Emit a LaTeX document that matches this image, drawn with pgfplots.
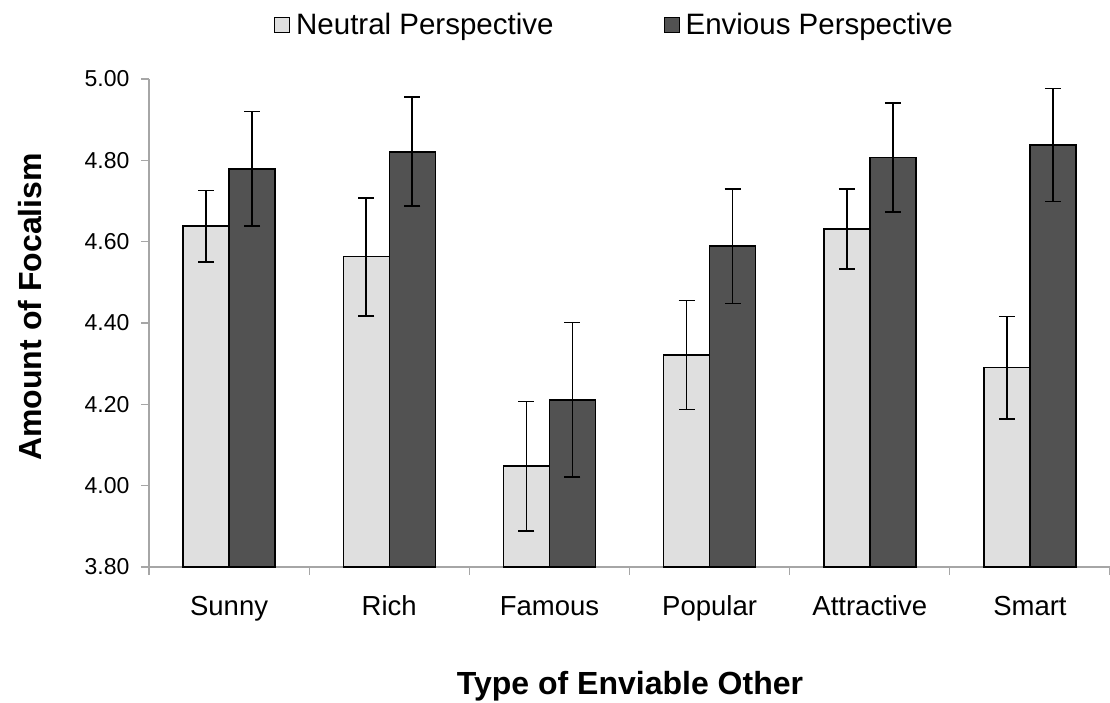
\documentclass[border=0pt]{standalone}
\usepackage{fontspec}
\setmainfont{Liberation Sans}
\usepackage{pgfplots}
\pgfplotsset{compat=1.18}
\definecolor{neutralc}{HTML}{DFDFDF}
\definecolor{enviousc}{HTML}{525252}
\definecolor{axisgray}{HTML}{A6A6A6}
\begin{document}
\begin{tikzpicture}
\useasboundingbox (0,0) rectangle (1110pt,702pt);
\begin{axis}[
  at={(149pt,135pt)}, anchor=south west,
  scale only axis, width=961pt, height=488pt,
  ybar=0pt, bar width=46pt,
  xmin=-0.5, xmax=5.5, ymin=3.8, ymax=5.0,
  axis lines*=left, axis line style={draw=axisgray, line width=1.3pt, -},
  tick align=outside,
  xtick={0,1,2,3,4,5},
  xticklabels={Sunny,Rich,Famous,Popular,Attractive,Smart},
  major x tick style={draw=none},
  minor xtick={-0.5,0.5,1.5,2.5,3.5,4.5,5.5},
  minor tick length=8pt,
  minor x tick style={draw=axisgray, line width=1.2pt},
  ytick={3.8,4.0,4.2,4.4,4.6,4.8,5.0},
  major tick length=8pt,
  y tick style={draw=axisgray, line width=1.2pt},
  /pgf/number format/assume math mode=true,
  y tick label style={font=\fontsize{23}{26}\selectfont},
  yticklabel={\pgfmathprintnumber[fixed, fixed zerofill, precision=2]{\tick}\kern8pt},
  xticklabel style={font=\fontsize{27.5}{32}\selectfont, anchor=base, yshift=-40pt},
  ylabel={\bfseries Amount of Focalism},
  ylabel style={font=\fontsize{32}{38}\selectfont, at={(axis description cs:-0.1238,0.533)}, anchor=center},
  xlabel={\bfseries Type of Enviable Other},
  xlabel style={font=\fontsize{32}{38}\selectfont, at={(axis description cs:0.5005,-0.2437)}, anchor=center},
  legend columns=2,
  legend style={draw=none, fill=none, at={(axis description cs:0.4844,1.1107)}, anchor=center,
    font=\fontsize{29.5}{34}\selectfont,
    /tikz/every odd column/.append style={column sep=4pt},
    /tikz/every even column/.append style={column sep=108pt}},
  legend image code/.code={\draw[#1, line width=1pt] (0pt,-8pt) rectangle (15pt,7pt);},
  error bars/y dir=both, error bars/y explicit,
  error bars/error bar style={line width=1.7pt, black},
  error bars/error mark options={rotate=90, mark size=8pt, line width=1.7pt, black},
]
\addplot[fill=neutralc, draw=black, line width=1.5pt] coordinates {
  (0,4.638) +- (0,0.088)
  (1,4.563) +- (0,0.145)
  (2,4.048) +- (0,0.159)
  (3,4.321) +- (0,0.134)
  (4,4.631) +- (0,0.098)
  (5,4.290) +- (0,0.126)
};
\addlegendentry{Neutral Perspective}
\addplot[fill=enviousc, draw=black, line width=1.5pt] coordinates {
  (0,4.779) +- (0,0.141)
  (1,4.821) +- (0,0.134)
  (2,4.211) +- (0,0.190)
  (3,4.589) +- (0,0.141)
  (4,4.807) +- (0,0.134)
  (5,4.838) +- (0,0.139)
};
\addlegendentry{Envious Perspective}
\end{axis}
\end{tikzpicture}
\end{document}
